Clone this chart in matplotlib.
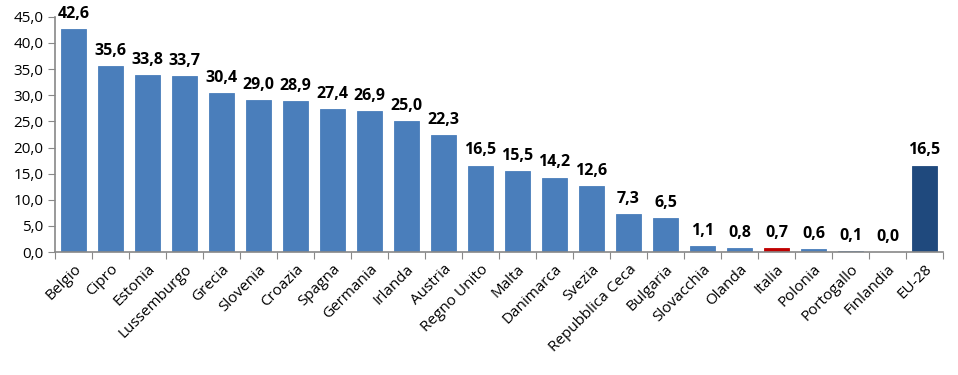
import numpy as np
import matplotlib
matplotlib.use("Agg")
import matplotlib.pyplot as plt

paesi = ["Belgio", "Cipro", "Estonia", "Lussemburgo", "Grecia", "Slovenia",
         "Croazia", "Spagna", "Germania", "Irlanda", "Austria", "Regno Unito",
         "Malta", "Danimarca", "Svezia", "Repubblica Ceca", "Bulgaria",
         "Slovacchia", "Olanda", "Italia", "Polonia", "Portogallo",
         "Finlandia", "EU-28"]
valori = [42.6, 35.6, 33.8, 33.7, 30.4, 29.0, 28.9, 27.4, 26.9, 25.0, 22.3,
          16.5, 15.5, 14.2, 12.6, 7.3, 6.5, 1.1, 0.8, 0.7, 0.6, 0.1, 0.0, 16.5]
yticks = np.arange(0, 45.1, 5)

plt.rcParams['font.family'] = ['Open Sans', 'DejaVu Sans']

# colori: Italia in rosso, media EU in blu scuro
colori = ["#4a7ebb"] * len(paesi)
colori[paesi.index("Italia")] = "#c00000"
colori[paesi.index("EU-28")] = "#1f497d"

fig = plt.figure(figsize=(9.58, 3.75), dpi=100)
ax = fig.add_axes([0.0574, 0.328, 0.927, 0.627])

x = np.arange(len(paesi))
ax.bar(x, valori, width=0.66, color=colori, edgecolor=colori, linewidth=0.6)

for xi, v in zip(x, valori):
    ax.text(xi, v + 1.4, f"{v:.1f}".replace(".", ","), ha="center", va="bottom",
            fontsize=11.5, fontweight="bold", color="black")

ax.set_xlim(-0.5, len(paesi) - 0.5)
ax.set_ylim(0, 45)
ax.set_yticks(yticks)
ax.set_yticklabels([f"{t:.1f}".replace(".", ",") for t in yticks], fontsize=11)

# tacche tra le categorie, stile Excel
ax.set_xticks(np.arange(len(paesi) + 1) - 0.5)
ax.set_xticklabels([])
ax.set_xticks(x, minor=True)
ax.set_xticklabels(paesi, minor=True, rotation=45, ha="right",
                   rotation_mode="anchor", fontsize=11)
ax.tick_params(axis="x", which="minor", length=0, pad=7)
ax.tick_params(axis="x", which="major", length=5, color="#888888")
ax.tick_params(axis="y", length=5, color="#888888")

for s in ["top", "right"]:
    ax.spines[s].set_visible(False)
for s in ["left", "bottom"]:
    ax.spines[s].set_color("#888888")
    ax.spines[s].set_linewidth(1.2)

fig.savefig("out.png", dpi=100)
